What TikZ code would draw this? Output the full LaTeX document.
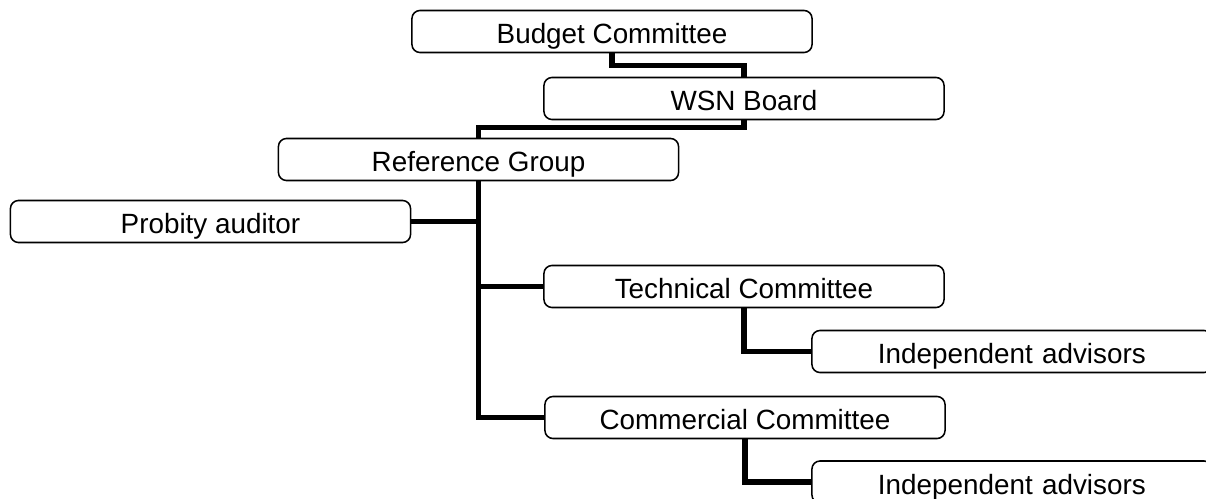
\documentclass[tikz,border=0pt]{standalone}
\usepackage{fontspec}
\setmainfont{Liberation Sans}

\begin{document}
\begin{tikzpicture}
  [ x=0.025cm, y=-0.025cm,
    box/.style={rectangle, draw=black, line width=1.1pt, rounded corners=0.2cm,
      minimum width=10cm, minimum height=1.05cm, inner sep=0pt,
      text height=0.825cm, text depth=0.225cm, font=\fontsize{19.8}{23}\selectfont},
    sidebox/.style={box, inner xsep=1.65cm, text width=6.7cm, align=left},
    line/.style={-, line width=3.6pt, black}
  ]
  \clip (0,0) rectangle (1206,499);

  \node[box] (budget) at (612,31.5) {Budget Committee};
  \node[box] (wsn) at (744,98.5) {WSN Board};
  \node[box] (refgroup) at (478.5,159.5) {Reference Group};
  \node[box] (probity) at (210.5,221.5) {Probity auditor};
  \node[box] (technical) at (744,286.5) {Technical Committee};
  \node[sidebox] (advisorsone) at (1012,351.5) {Independent advisors};
  \node[box] (commercial) at (745,417.5) {Commercial Committee};
  \node[sidebox] (advisorstwo) at (1012,482) {Independent advisors};

  \draw [line] (budget.south) -- ++(0,12) -| (wsn.north);
  \draw [line] (wsn.south) -- ++(0,7) -| (refgroup.north);
  \draw [line] (refgroup.south) |- (commercial.west);
  \draw [line] (probity.east) -- (probity.east -| refgroup.south);
  \draw [line] (technical.west) -- (technical.west -| refgroup.south);
  \draw [line] (technical.south) |- (advisorsone.west);
  \draw [line] (commercial.south) |- (advisorstwo.west);
\end{tikzpicture}
\end{document}
